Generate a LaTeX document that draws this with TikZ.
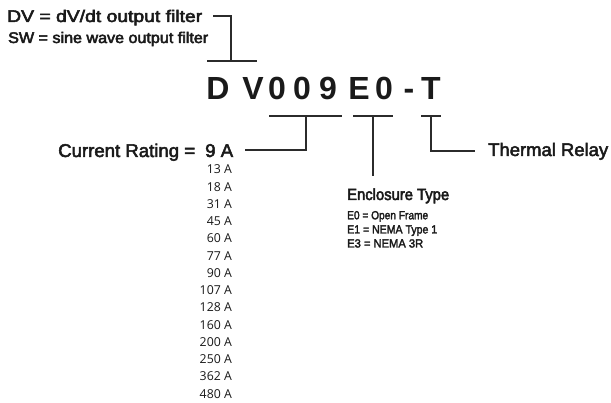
\documentclass[tikz,border=0pt]{standalone}
\usepackage{graphicx}
\usepackage{fontspec}
\setmainfont{Liberation Sans}
\newfontfamily\medfont{Liberation Sans}
\newfontfamily\listfont{Open Sans}
\definecolor{ink}{HTML}{1A1A1A}
\definecolor{wire}{HTML}{2B2B2B}
\newcommand{\emb}[2]{\special{pdf:literal direct 2 Tr #1 w}#2\special{pdf:literal direct 0 Tr}}
\newcommand{\fitw}[2]{\resizebox{#1pt}{\height}{\emb{0.5}{#2}}}
\newcommand{\fitws}[2]{\resizebox{#1pt}{\height}{\emb{0.3}{#2}}}
\begin{document}
\begin{tikzpicture}[x=1pt,y=-1pt,
  lbl/.style={inner sep=0pt,anchor=base west,text=ink},
  amp/.style={inner sep=0pt,anchor=base east,text=ink,font=\listfont\fontsize{12.3}{14}\selectfont},
  code/.style={inner sep=0pt,anchor=base,text=ink,font=\bfseries\fontsize{32}{34}\selectfont},
  wirel/.style={draw=wire,line width=1.4pt}]
\useasboundingbox[fill=white] (0,0) rectangle (611,403);
% top labels
\node[lbl,font=\medfont\fontsize{16.8}{18}\selectfont] (dv) at (7,22) {\fitw{195}{DV = dV/dt output filter}};
\node[lbl,font=\medfont\fontsize{15.4}{17}\selectfont] (sw) at (8,43) {\fitw{200}{SW = sine wave output filter}};
% code letters
\node[code] (c1) at (218,99.5) {D};
\node[code] (c2) at (253,99.5) {V};
\node[code] (c3) at (277,99.5) {0};
\node[code] (c4) at (302,99.5) {0};
\node[code] (c5) at (328,99.5) {9};
\node[code] (c6) at (359,99.5) {E};
\node[code] (c7) at (384,99.5) {0};
\node[code] (c8) at (409,99.5) {-};
\node[code] (c9) at (431,99.5) {T};
% bar coordinates
\coordinate (b0l) at (207,61);  \coordinate (b0r) at (257,61);
\coordinate (b0m) at (231,61);  \coordinate (b0t) at (231,16);
\coordinate (dvend) at (213,16);
\coordinate (b1l) at (269,116); \coordinate (b1r) at (342,116);
\coordinate (b1m) at (306,116); \coordinate (b1d) at (306,150);
\coordinate (b1e) at (245,150);
\coordinate (b2l) at (353,116); \coordinate (b2r) at (393,116);
\coordinate (b2m) at (373,116); \coordinate (b2d) at (373,176);
\coordinate (b3l) at (421,116); \coordinate (b3r) at (441,116);
\coordinate (b3m) at (431,116); \coordinate (b3d) at (431,151);
\coordinate (b3e) at (475,151);
% connectors
\draw[wirel] (b0l) -- (b0r);
\draw[wirel] (dvend) -- (b0t) -- (b0m);
\draw[wirel] (b1l) -- (b1r);
\draw[wirel] (b1m) -- (b1d) -- (b1e);
\draw[wirel] (b2l) -- (b2r);
\draw[wirel] (b2m) -- (b2d);
\draw[wirel] (b3l) -- (b3r);
\draw[wirel] (b3m) -- (b3d) -- (b3e);
% right side labels
\node[lbl,font=\medfont\fontsize{18.2}{20}\selectfont] (tr) at (488,156) {\fitw{120}{Thermal Relay}};
\node[lbl,font=\medfont\fontsize{18.5}{20}\selectfont] (cr) at (58,157) {\fitw{137}{Current Rating =}};
\node[lbl,font=\medfont\fontsize{18.5}{20}\selectfont] (nine) at (205,157) {\fitw{28}{9 A}};
\node[lbl,font=\medfont\fontsize{16.2}{18}\selectfont] (et) at (347,200) {\fitw{102}{Enclosure Type}};
\node[lbl,font=\medfont\fontsize{11.8}{14}\selectfont] (e0) at (347,219.3) {\fitws{81}{E0 = Open Frame}};
\node[lbl,font=\medfont\fontsize{11.8}{14}\selectfont] (e1) at (347,233.5) {\fitws{90}{E1 = NEMA Type 1}};
\node[lbl,font=\medfont\fontsize{11.8}{14}\selectfont] (e3) at (347,247.5) {\fitws{76}{E3 = NEMA 3R}};
% current list
\foreach \v [count=\i from 0] in {13,18,31,45,60,77,90,107,128,160,200,250,362,480}
  \node[amp] (a\v) at (232,174+17.25*\i) {\v\ A};
\end{tikzpicture}
\end{document}
